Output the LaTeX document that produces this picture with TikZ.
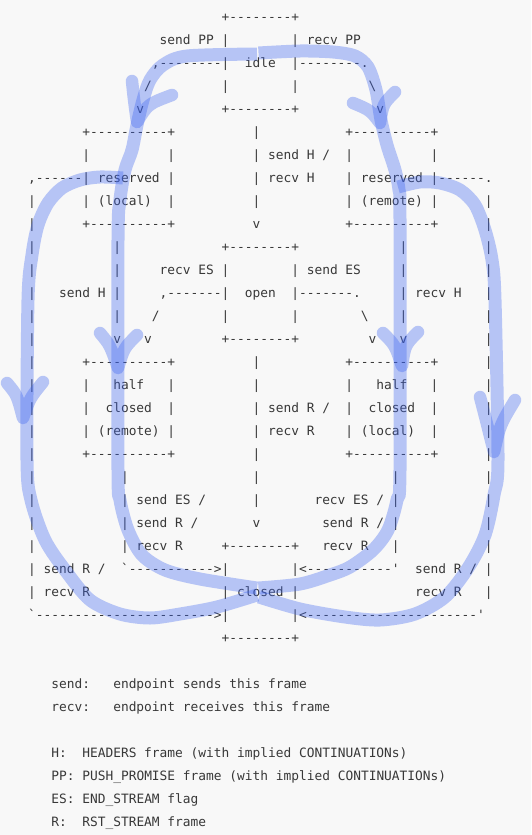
\documentclass[tikz,border=0pt]{standalone}
\usepackage{fontspec}
\setmonofont{DejaVu Sans Mono}
\definecolor{bgcol}{RGB}{248,248,248}
\definecolor{txtcol}{RGB}{56,56,56}
\definecolor{hlblue}{RGB}{60,100,240}
\tikzset{
  asc/.style={font=\ttfamily\fontsize{12.86}{15}\selectfont, text=txtcol, inner sep=0pt, anchor=base west},
  hl/.style={line width=13pt, draw=hlblue, draw opacity=0.35, line cap=butt, line join=round},
  hlarrow/.style={hl, line width=12.5pt, line cap=round}
}
\newcommand\putat[3]{\node[asc] (r#1c#2) at ({-26.25+7.74*#2},{21.8+22.98*#1}) {#3};}
\begin{document}
\begin{tikzpicture}[x=1pt,y=-1pt]
\fill[bgcol] (0,0) rectangle (531,835);
\useasboundingbox (0,0) rectangle (531,835);
% ---- ASCII diagram ----
\putat{0}{32}{+--------+}
\putat{1}{24}{send PP |}\putat{1}{41}{| recv PP}
\putat{2}{23}{,--------|}\putat{2}{35}{idle}\putat{2}{41}{|--------.}
\putat{3}{22}{/}\putat{3}{32}{|}\putat{3}{41}{|}\putat{3}{51}{\textbackslash}
\putat{4}{21}{v}\putat{4}{32}{+--------+}\putat{4}{52}{v}
\putat{5}{14}{+----------+}\putat{5}{36}{|}\putat{5}{48}{+----------+}
\putat{6}{14}{|}\putat{6}{25}{|}\putat{6}{36}{| send H /}\putat{6}{48}{|}\putat{6}{59}{|}
\putat{7}{7}{,------| reserved |}\putat{7}{36}{| recv H}\putat{7}{48}{| reserved |------.}
\putat{8}{7}{|}\putat{8}{14}{| (local)}\putat{8}{25}{|}\putat{8}{36}{|}\putat{8}{48}{| (remote) |}\putat{8}{66}{|}
\putat{9}{7}{|}\putat{9}{14}{+----------+}\putat{9}{36}{v}\putat{9}{48}{+----------+}\putat{9}{66}{|}
\putat{10}{7}{|}\putat{10}{18}{|}\putat{10}{32}{+--------+}\putat{10}{55}{|}\putat{10}{66}{|}
\putat{11}{7}{|}\putat{11}{18}{|}\putat{11}{24}{recv ES |}\putat{11}{41}{| send ES}\putat{11}{55}{|}\putat{11}{66}{|}
\putat{12}{7}{|}\putat{12}{11}{send H |}\putat{12}{24}{,-------|}\putat{12}{35}{open}\putat{12}{41}{|-------.}\putat{12}{55}{| recv H}\putat{12}{66}{|}
\putat{13}{7}{|}\putat{13}{18}{|}\putat{13}{23}{/}\putat{13}{32}{|}\putat{13}{41}{|}\putat{13}{50}{\textbackslash}\putat{13}{55}{|}\putat{13}{66}{|}
\putat{14}{7}{|}\putat{14}{18}{v}\putat{14}{22}{v}\putat{14}{32}{+--------+}\putat{14}{51}{v}\putat{14}{55}{v}\putat{14}{66}{|}
\putat{15}{7}{|}\putat{15}{14}{+----------+}\putat{15}{36}{|}\putat{15}{48}{+----------+}\putat{15}{66}{|}
\putat{16}{7}{|}\putat{16}{14}{|}\putat{16}{18}{half}\putat{16}{25}{|}\putat{16}{36}{|}\putat{16}{48}{|}\putat{16}{52}{half}\putat{16}{59}{|}\putat{16}{66}{|}
\putat{17}{7}{|}\putat{17}{14}{|}\putat{17}{17}{closed}\putat{17}{25}{|}\putat{17}{36}{| send R /}\putat{17}{48}{|}\putat{17}{51}{closed}\putat{17}{59}{|}\putat{17}{66}{|}
\putat{18}{7}{|}\putat{18}{14}{| (remote) |}\putat{18}{36}{| recv R}\putat{18}{48}{| (local)}\putat{18}{59}{|}\putat{18}{66}{|}
\putat{19}{7}{|}\putat{19}{14}{+----------+}\putat{19}{36}{|}\putat{19}{48}{+----------+}\putat{19}{66}{|}
\putat{20}{7}{|}\putat{20}{19}{|}\putat{20}{36}{|}\putat{20}{54}{|}\putat{20}{66}{|}
\putat{21}{7}{|}\putat{21}{19}{| send ES /}\putat{21}{36}{|}\putat{21}{44}{recv ES / |}\putat{21}{66}{|}
\putat{22}{7}{|}\putat{22}{19}{| send R /}\putat{22}{36}{v}\putat{22}{45}{send R / |}\putat{22}{66}{|}
\putat{23}{7}{|}\putat{23}{19}{| recv R}\putat{23}{32}{+--------+}\putat{23}{45}{recv R}\putat{23}{54}{|}\putat{23}{66}{|}
\putat{24}{7}{| send R /}\putat{24}{19}{`----------->|}\putat{24}{41}{|<-----------'}\putat{24}{57}{send R / |}
\putat{25}{7}{| recv R}\putat{25}{32}{| closed |}\putat{25}{57}{recv R}\putat{25}{66}{|}
\putat{26}{7}{`----------------------->|}\putat{26}{41}{|<----------------------'}
\putat{27}{32}{+--------+}
% ---- legend ----
\putat{29}{10}{send:}\putat{29}{18}{endpoint sends this frame}
\putat{30}{10}{recv:}\putat{30}{18}{endpoint receives this frame}
\putat{32}{10}{H:}\putat{32}{14}{HEADERS frame (with implied CONTINUATIONs)}
\putat{33}{10}{PP: PUSH\_PROMISE frame (with implied CONTINUATIONs)}
\putat{34}{10}{ES: END\_STREAM flag}
\putat{35}{10}{R:}\putat{35}{14}{RST\_STREAM frame}
% ---- hand-drawn highlight strokes ----
\draw[hl] plot[smooth, tension=0.5] coordinates {(257,54) (187,56) (163,65) (150,80) (143,100) (137,125) (132,150) (125,170) (120,200) (118,240) (118,470) (120,500) (128,530) (142,555) (165,570) (200,579) (257,588)};
\draw[hl] plot[smooth, tension=0.5] coordinates {(258.5,53) (300,51) (333,52) (355,56) (368,67) (376,90) (381,120) (387,145) (395,170) (399,190) (400,220) (400,470) (397,500) (388,530) (373,550) (350,567) (330,575) (300,584) (258.5,588)};
\draw[hl] plot[smooth, tension=0.5] coordinates {(123,178) (100,177) (80,180) (62,188) (48,203) (38,225) (32,255) (28,300) (27,460) (31,500) (45,540) (65,570) (90,600) (120,614) (150,618) (180,614) (217,607) (257,595)};
\draw[hl] plot[smooth, tension=0.5] coordinates {(398,187) (420,182) (440,183) (460,190) (475,205) (485,230) (492,260) (495,300) (498,460) (494,495) (485,535) (468,568) (445,597) (415,614) (380,620) (345,617) (300,609) (259,597)};
% arrowheads
\draw[hlarrow] (132,81) .. controls (134,100) .. (137,122) .. controls (148,104) .. (172,95);
\draw[hlarrow] (353,103) .. controls (370,110) .. (380,123) .. controls (383,104) .. (395,92);
\draw[hlarrow] (100,333) .. controls (110,345) .. (118,368) .. controls (124,348) .. (137,335);
\draw[hlarrow] (383,333) .. controls (395,345) .. (402,366) .. controls (405,345) .. (418,332);
\draw[hlarrow] (7,383) .. controls (17,395) .. (23,418) .. controls (30,398) .. (43,382);
\draw[hlarrow] (480,397) .. controls (486,420) .. (494,452) .. controls (500,425) .. (515,400);
\end{tikzpicture}
\end{document}
